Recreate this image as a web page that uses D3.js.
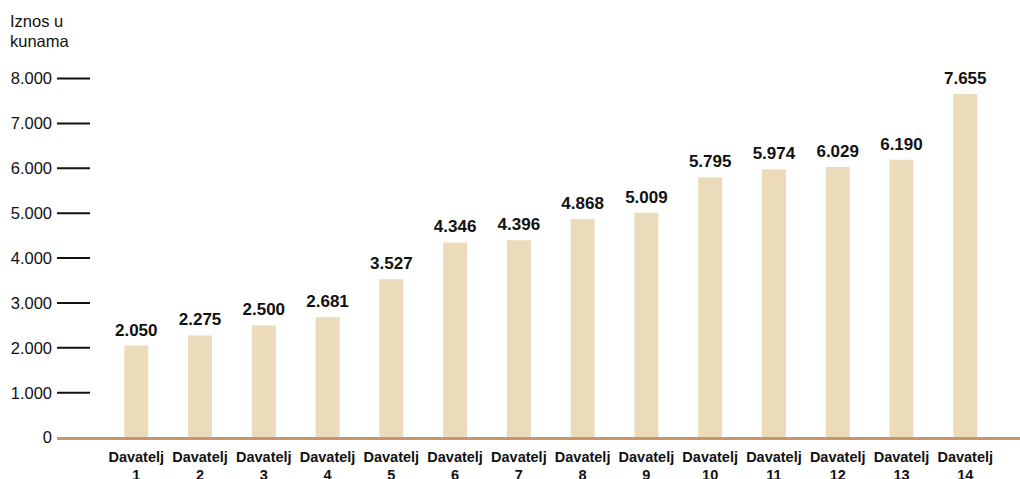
<!DOCTYPE html>
<html><head><meta charset="utf-8">
<script src="https://cdn.jsdelivr.net/npm/d3@7"></script>
<style>body{margin:0;background:#fff}svg{display:block}text{font-family:"Liberation Sans",Arial,Helvetica,sans-serif}</style>
</head><body><svg id="c" width="1020" height="479"></svg>
<script>
const categories = ["Davatelj 1","Davatelj 2","Davatelj 3","Davatelj 4","Davatelj 5","Davatelj 6","Davatelj 7","Davatelj 8","Davatelj 9","Davatelj 10","Davatelj 11","Davatelj 12","Davatelj 13","Davatelj 14"];
const values = [2050,2275,2500,2681,3527,4346,4396,4868,5009,5795,5974,6029,6190,7655];
const yTicks = [0,1000,2000,3000,4000,5000,6000,7000,8000];
const yTitle = ["Iznos u","kunama"];

const fmt = v => d3.format(",")(v).replace(/,/g,".");
const svg = d3.select("#c");
const x = d3.scaleBand().domain(categories).range([104.5, 997]).paddingInner(0.624).paddingOuter(0.31);
const y = d3.scaleLinear().domain([0,8000]).range([437.5,78.5]);

// y ticks
const yg = svg.append("g");
yTicks.forEach(t=>{
  yg.append("text").attr("x",52).attr("y",y(t)).attr("dy","0.36em").attr("text-anchor","end")
    .attr("font-size",16.5).attr("fill","#111").text(fmt(t));
  if(t>0) yg.append("line").attr("x1",57).attr("x2",90).attr("y1",y(t)).attr("y2",y(t))
    .attr("stroke","#111").attr("stroke-width",2);
});
yTitle.forEach((s,i)=>svg.append("text").attr("x",10).attr("y",27+i*19.5).attr("font-size",16.5).attr("fill","#111").text(s));

// bars
svg.selectAll("rect.bar").data(values).join("rect").attr("class","bar")
  .attr("x",(d,i)=>x(categories[i])).attr("width",x.bandwidth())
  .attr("y",d=>y(d)).attr("height",d=>y(0)-y(d)).attr("fill","#ecdbbb");

svg.selectAll("text.val").data(values).join("text").attr("class","val")
  .attr("x",(d,i)=>x(categories[i])+x.bandwidth()/2).attr("y",d=>y(d)-10)
  .attr("text-anchor","middle").attr("font-size",17).attr("font-weight","bold").attr("fill","#111")
  .text(d=>fmt(d));

// baseline
svg.append("line").attr("x1",57).attr("x2",1020).attr("y1",y(0)+1).attr("y2",y(0)+1)
  .attr("stroke","#c9956a").attr("stroke-width",3);

// x labels
categories.forEach(c=>{
  const parts = c.split(" ");
  const t = svg.append("text").attr("text-anchor","middle").attr("font-size",14.5).attr("font-weight","bold").attr("fill","#111");
  const cx = x(c)+x.bandwidth()/2;
  t.append("tspan").attr("x",cx).attr("y",462).text(parts[0]);
  t.append("tspan").attr("x",cx).attr("y",480).text(parts[1]);
});
</script></body></html>
